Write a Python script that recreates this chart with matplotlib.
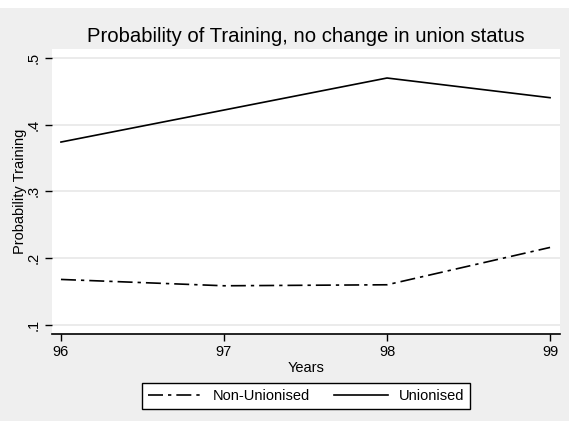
import matplotlib
matplotlib.use('Agg')
import matplotlib.pyplot as plt
from matplotlib.patches import Rectangle

years = [96, 97, 98, 99]
non_union = [0.168, 0.1585, 0.160, 0.216]
union = [0.374, 0.422, 0.470, 0.4405]
yticks = [0.1, 0.2, 0.3, 0.4, 0.5]
ytick_labels = ['.1', '.2', '.3', '.4', '.5']

plt.rcParams['font.family'] = ['Liberation Sans', 'DejaVu Sans']

W, H = 569, 421
fig = plt.figure(figsize=(W / 100, H / 100), dpi=100, facecolor='#efefef')
# thin white strip along the top edge
fig.patches.append(Rectangle((0, (H - 8) / H), 1, 8 / H, transform=fig.transFigure,
                             facecolor='white', edgecolor='none', zorder=-1))

ax = fig.add_axes([52 / W, 1 - 334 / H, (560 - 52) / W, (334 - 49) / H])
ax.set_facecolor('white')

ax.plot(years, non_union, color='black', lw=1.2, dashes=(9, 3, 2, 3),
        label='Non-Unionised')
ax.plot(years, union, color='black', lw=1.2, label='Unionised')

ax.set_xlim(95.945, 99.061)
ax.set_ylim(0.0862, 0.5135)
ax.set_xticks(years)
ax.set_yticks(yticks)
ax.set_yticklabels(ytick_labels, rotation=90, va='center')
ax.yaxis.grid(True, color='#e8e8e8', lw=1.2)
ax.set_axisbelow(True)

for s in ['top', 'right', 'left']:
    ax.spines[s].set_visible(False)
ax.spines['bottom'].set_linewidth(1.2)
ax.tick_params(axis='both', direction='out', length=5, width=1, labelsize=10.5, pad=3)

ax.set_title('Probability of Training, no change in union status', fontsize=14.6, pad=5)
ax.set_xlabel('Years', fontsize=10.5, labelpad=1)
ax.set_ylabel('Probability Training', fontsize=10.5, labelpad=0)

leg = ax.legend(loc='upper center', bbox_to_anchor=(0.5, -0.146), ncol=2,
                frameon=True, fancybox=False, edgecolor='black', facecolor='white',
                fontsize=10.5, handlelength=3.7, columnspacing=1.6,
                borderpad=0.4, handletextpad=0.75)
leg.get_frame().set_linewidth(1.0)
leg.get_frame().set_alpha(1)

fig.savefig('out.png', dpi=100, facecolor=fig.get_facecolor())
